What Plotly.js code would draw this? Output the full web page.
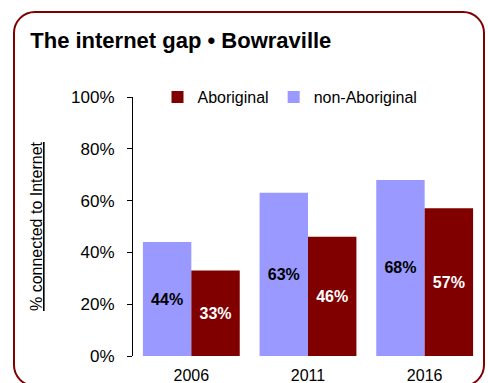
<!DOCTYPE html>
<html>
<head>
<meta charset="utf-8">
<script src="https://cdn.plot.ly/plotly-3.0.1.min.js"></script>
<style>
html,body{margin:0;padding:0;background:#fff;}
#wrap{position:relative;width:488px;height:383px;overflow:hidden;}
#chart{position:absolute;left:0;top:0;width:488px;height:383px;}
#frame{position:absolute;left:13px;top:11px;width:472px;height:376px;box-sizing:border-box;border:2px solid #800000;border-radius:22px;pointer-events:none;}
</style>
</head>
<body>
<div id="wrap"><div id="chart"></div><div id="frame"></div></div>
<script>
const years = ['2006', '2011', '2016'];
const nonAboriginal = [44, 63, 68];
const aboriginal = [33, 46, 57];
const yTicks = [0, 20, 40, 60, 80, 100];
const yTickLabels = ['0%', '20%', '40%', '60%', '80%', '100%'];

const font = 'Liberation Sans, Arial, sans-serif';
const traces = [
  {type:'bar', name:'non-Aboriginal', x:years, y:nonAboriginal,
   marker:{color:'#9999FF'}, legendrank:2,
   text:nonAboriginal.map(v=>'<b>'+v+'%</b>'), textposition:'inside', insidetextanchor:'middle',
   textfont:{color:'#000', size:16, family:font}, hoverinfo:'skip'},
  {type:'bar', name:'Aboriginal', x:years, y:aboriginal,
   marker:{color:'#800000'}, legendrank:1,
   text:aboriginal.map(v=>'<b>'+v+'%</b>'), textposition:'inside', insidetextanchor:'middle',
   textfont:{color:'#fff', size:16, family:font}, hoverinfo:'skip'}
];
const layout = {
  width:488, height:383,
  margin:{l:133, r:5, t:97, b:27},
  paper_bgcolor:'rgba(0,0,0,0)', plot_bgcolor:'rgba(0,0,0,0)',
  font:{family:font, size:16, color:'#000'},
  title:{text:'<b>The internet gap • Bowraville</b>', x:0.062, xanchor:'left', y:0.895, yanchor:'middle', font:{size:22, family:font, color:'#000'}},
  barmode:'group', bargap:0.17, bargroupgap:0,
  showlegend:true,
  legend:{orientation:'h', x:0.07, xanchor:'left', y:1.0, yanchor:'middle', font:{size:16, family:font}, itemwidth:30, traceorder:'normal'},
  xaxis:{showline:false, ticks:'', showgrid:false, tickfont:{size:16}, ticklabelstandoff:8, fixedrange:true},
  yaxis:{range:[0,100], tickvals:yTicks, ticktext:yTickLabels, showline:true, linecolor:'#000', linewidth:1,
         ticks:'outside', ticklen:5, tickcolor:'#000', showgrid:false, zeroline:false, tickfont:{size:17},
         ticklabelstandoff:9,
         title:{text:'<u>% connected to Internet</u>', font:{size:16, family:font}, standoff:24}}
};
Plotly.newPlot('chart', traces, layout, {displayModeBar:false, staticPlot:true});
</script>
</body>
</html>
